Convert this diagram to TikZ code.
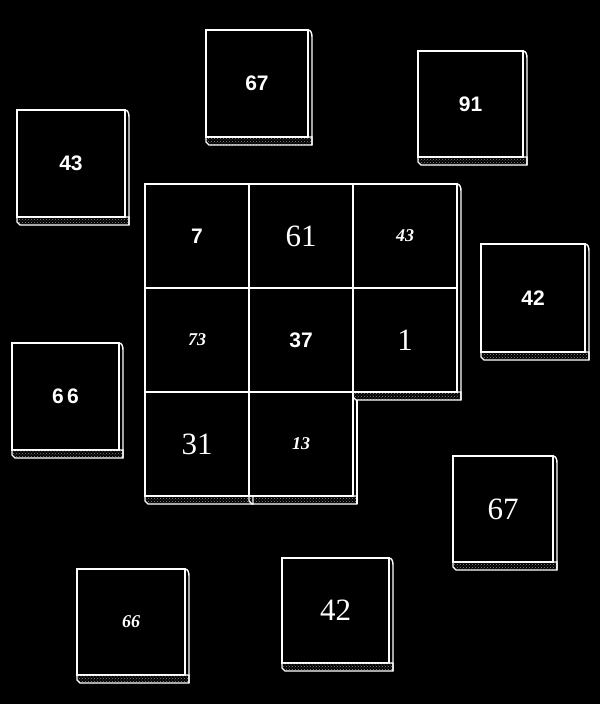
\documentclass[tikz,border=0pt]{standalone}
\usepackage{fontspec}
\setmainfont{Liberation Serif}
\newfontfamily\tilesans{Liberation Sans}
\usetikzlibrary{positioning,patterns}
\begin{document}
\begin{tikzpicture}[x=1pt,y=-1pt,line width=1.8pt,
  tile/.style={draw=white,fill=black,text=white,inner sep=0pt,outer sep=0pt},
  cell/.style={tile,minimum width=104pt,minimum height=104pt},
  bold/.style={font=\tilesans\bfseries\fontsize{21}{21}\selectfont},
  plain/.style={font=\fontsize{31}{31}\selectfont},
  hand/.style={font=\bfseries\itshape\fontsize{18}{18}\selectfont},
  rim/.style={draw=white,line width=1.4pt,pattern=crosshatch dots,pattern color=gray!90},
  side/.style={draw=white,line width=1.4pt}]
  % black page
  \fill[black] (0,0) rectangle (600,704);
  \useasboundingbox (0,0) rectangle (600,704);
  % loose tiles
  \node[tile,bold,minimum width=108pt,minimum height=107pt] (t43) at (71,163.5) {43};
  \node[tile,bold,minimum width=102pt,minimum height=107pt] (t67a) at (257,83.5) {67};
  \node[tile,bold,minimum width=105pt,minimum height=106pt] (t91) at (470.5,104) {91};
  \node[tile,bold,minimum width=104pt,minimum height=108pt] (t42a) at (533,298) {42};
  \node[tile,bold,minimum width=107pt,minimum height=107pt] (t66a) at (65.5,396.5) {6\,6};
  \node[tile,plain,minimum width=107pt,minimum height=105pt] (t42b) at (335.5,610.5) {42};
  \node[tile,hand,minimum width=108pt,minimum height=106pt] (t66b) at (131,622) {66};
  \node[tile,plain,minimum width=100pt,minimum height=106pt] (t67b) at (503,509) {67};
  % square of eight cells
  \node[cell,bold] (c7) at (197,236) {7};
  \node[cell,plain,right=0pt of c7] (c61) {61};
  \node[cell,hand,right=0pt of c61] (c43) {43};
  \node[cell,hand,below=0pt of c7] (c73) {73};
  \node[cell,bold,right=0pt of c73] (c37) {37};
  \node[cell,plain,right=0pt of c37] (c1) {1};
  \node[cell,plain,below=0pt of c73] (c31) {31};
  \node[cell,hand,right=0pt of c31] (c13) {13};
  % bottom rims
  \foreach \t in {t43,t67a,t91,t42a,t66a,t42b,t66b,t67b,c1,c31,c13}{
    \filldraw[rim] (\t.south west) -- ([yshift=-5pt]\t.south west)
      -- ([xshift=3pt,yshift=-8pt]\t.south west) -- ([xshift=4pt,yshift=-8pt]\t.south east)
      -- ([xshift=4pt]\t.south east) -- cycle;
  }
  % right sides, rounded at the top
  \foreach \t in {t43,t67a,t91,t42a,t66a,t42b,t66b,t67b}{
    \draw[side] (\t.north east) to[out=0,in=90] ([xshift=4pt,yshift=-7pt]\t.north east)
      -- ([xshift=4pt,yshift=-8pt]\t.south east);
  }
  \draw[side] (c43.north east) to[out=0,in=90] ([xshift=4pt,yshift=-7pt]c43.north east)
    -- ([xshift=4pt,yshift=-8pt]c1.south east);
  \draw[side] ([xshift=4pt,yshift=-8pt]c13.north east) -- ([xshift=4pt,yshift=-8pt]c13.south east);
\end{tikzpicture}
\end{document}
